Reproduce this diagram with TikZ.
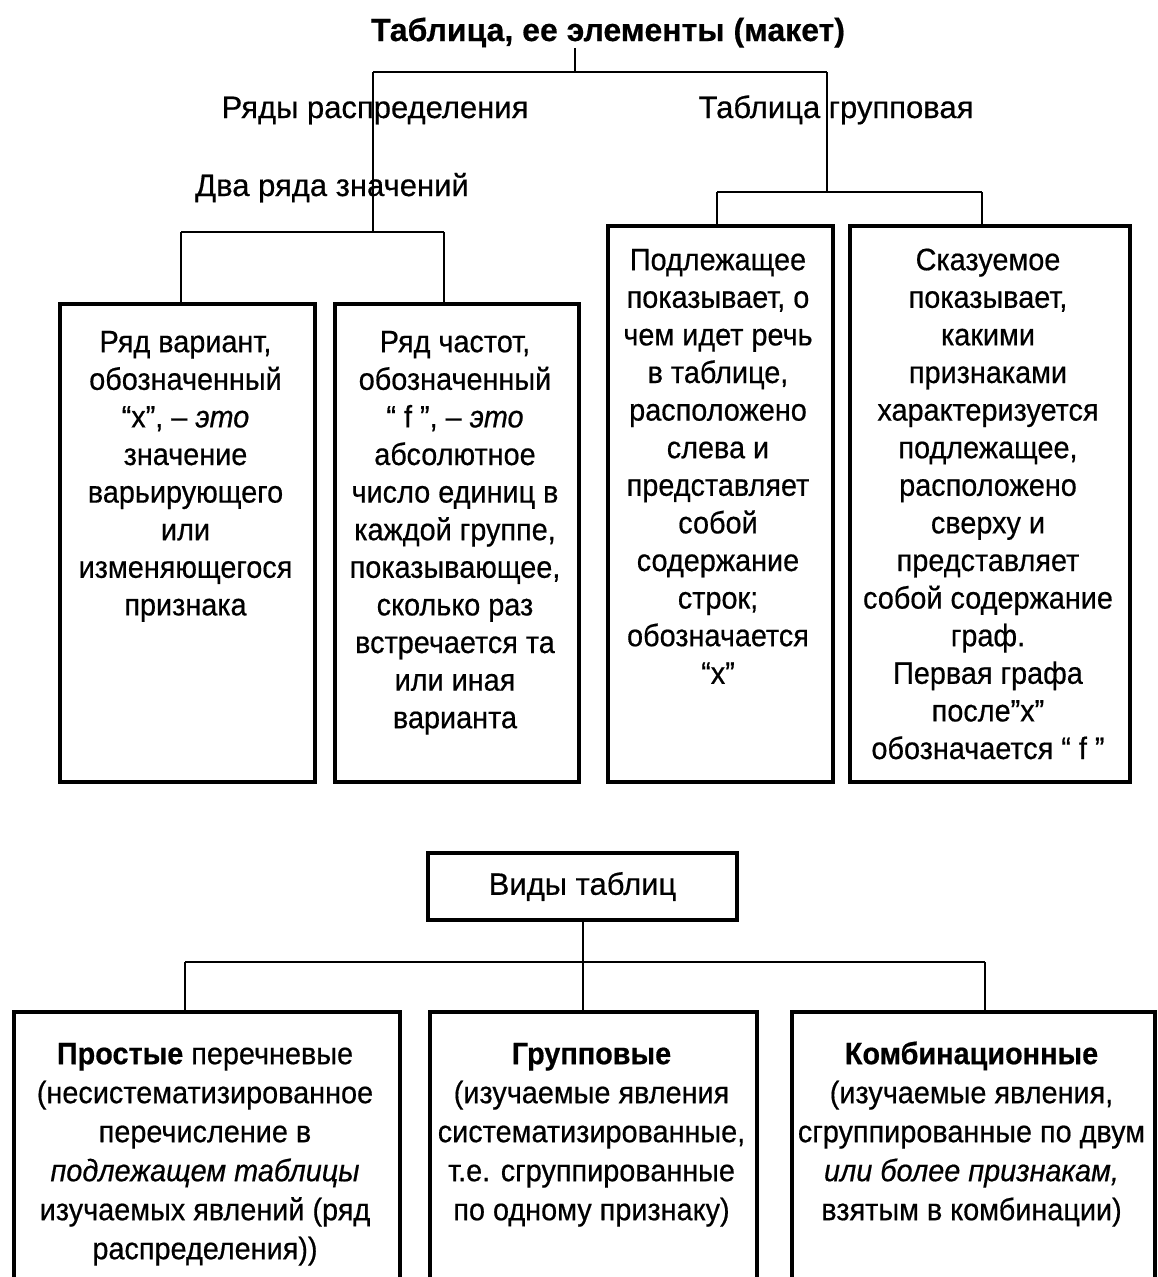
\documentclass[tikz,border=0pt]{standalone}
\usepackage{fontspec}
\setmainfont{Liberation Sans}[FakeStretch=0.93,FakeBold=0.5]
\newfontfamily\widefont{Liberation Sans}[FakeBold=0.5]
\newcommand{\fl}{\rule{0pt}{25pt}}
\begin{document}
\tikzset{
  box/.style={draw, line width=3.6pt, inner sep=0pt, anchor=north west},
  txt/.style={align=center, inner sep=0pt, anchor=north, font=\fontsize{31}{37.6}\selectfont},
  btxt/.style={align=center, inner sep=0pt, anchor=north, font=\fontsize{31}{39}\selectfont},
  lbl/.style={inner sep=0pt, anchor=base, font=\fontsize{31}{37.6}\selectfont\widefont},
  conn/.style={line width=2.8pt},
  thinconn/.style={line width=1.3pt},
}
\begin{tikzpicture}[x=1pt,y=-1pt]
\clip (0,0) rectangle (1158,1277);
\fill[white] (0,0) rectangle (1158,1277);

% ---- upper part: labels
\node[lbl, font=\fontsize{32}{37.6}\selectfont\widefont\bfseries] (title) at (608,41) {Таблица, ее элементы (макет)};
\node[lbl] (ryady) at (375,118) {Ряды распределения};
\node[lbl] (tgr) at (836,118) {Таблица групповая};
\node[lbl] (dva) at (332,196) {Два ряда значений};

% ---- upper boxes
\node[box, minimum width=255pt, minimum height=478pt] (b1) at (58,302) {};
\node[box, minimum width=244pt, minimum height=478pt] (b2) at (333,302) {};
\node[box, minimum width=225pt, minimum height=556pt] (b3) at (606,224) {};
\node[box, minimum width=280pt, minimum height=556pt] (b4) at (848,224) {};

\node[txt] (b1t) at (185.5,327) {\fl Ряд вариант,\\обозначенный\\“x”, – \textit{это}\\значение\\варьирующего\\или\\изменяющегося\\признака};
\node[txt] (b2t) at (455,327) {\fl Ряд частот,\\обозначенный\\“ f ”, – \textit{это}\\абсолютное\\число единиц в\\каждой группе,\\показывающее,\\сколько раз\\встречается та\\или иная\\варианта};
\node[txt] (b3t) at (718,245) {\fl Подлежащее\\показывает, о\\чем идет речь\\в таблице,\\расположено\\слева и\\представляет\\собой\\содержание\\строк;\\обозначается\\“x”};
\node[txt] (b4t) at (988,245) {\fl Сказуемое\\показывает,\\какими\\признаками\\характеризуется\\подлежащее,\\расположено\\сверху и\\представляет\\собой содержание\\граф.\\Первая графа\\после”x”\\обозначается “ f ”};

% ---- upper connectors
\coordinate (tj) at (575,72);
\coordinate (aL) at (373,72);
\coordinate (aR) at (827,72);
\coordinate (bj) at (373,232);
\coordinate (bL) at (181,232);
\coordinate (bR) at (444,232);
\coordinate (cj) at (827,192);
\coordinate (cL) at (717,192);
\coordinate (cR) at (982,192);
\draw[conn] (title.south -| tj) -- (tj);
\draw[conn] (aL) -- (aR);
\draw[conn] (aL) -- (ryady.south -| aL) -- (dva.north -| aL);
\draw[thinconn] (dva.north -| aL) -- (bj);
\draw[conn] (bL) -- (bR);
\draw[conn] (bL) -- (b1.north -| bL);
\draw[conn] (bR) -- (b2.north -| bR);
\draw[conn] (aR) -- (cj);
\draw[conn] (cL) -- (cR);
\draw[conn] (cL) -- (b3.north -| cL);
\draw[conn] (cR) -- (b4.north -| cR);

% ---- lower part
\node[draw, line width=3.6pt, minimum width=309pt, minimum height=67pt, inner sep=0pt, font=\fontsize{31}{37.6}\selectfont\widefont] (vidy) at (582.5,886.5) {Виды таблиц};

\node[box, minimum width=386pt, minimum height=300pt] (c1) at (12,1010) {};
\node[box, minimum width=327pt, minimum height=300pt] (c2) at (428,1010) {};
\node[box, minimum width=363pt, minimum height=300pt] (c3) at (790,1010) {};

\node[btxt] (c1t) at (205,1039) {\fl\textbf{Простые} перечневые\\(несистематизированное\\перечисление в\\\textit{подлежащем таблицы}\\изучаемых явлений (ряд\\распределения))};
\node[btxt] (c2t) at (591.5,1039) {\fl\textbf{Групповые}\\(изучаемые явления\\систематизированные,\\т.е. сгруппированные\\по одному признаку)};
\node[btxt] (c3t) at (971.5,1039) {\fl\textbf{Комбинационные}\\(изучаемые явления,\\сгруппированные по двум\\\textit{или более признакам,}\\взятым в комбинации)};

\coordinate (dj) at (583,962);
\coordinate (dL) at (185,962);
\coordinate (dR) at (985,962);
\draw[conn] (vidy.south -| dj) -- (dj);
\draw[conn] (dL) -- (dR);
\draw[conn] (dL) -- (c1.north -| dL);
\draw[conn] (dj) -- (c2.north -| dj);
\draw[conn] (dR) -- (c3.north -| dR);
\end{tikzpicture}
\end{document}
